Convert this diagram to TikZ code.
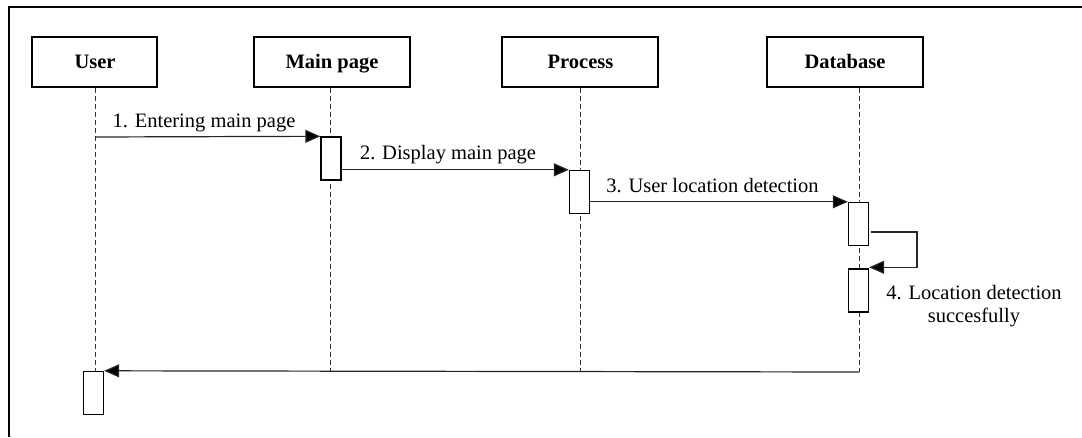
\documentclass[tikz,border=0pt]{standalone}
\usepackage{fontspec}
\setmainfont{Liberation Serif}
\usetikzlibrary{arrows.meta}
\begin{document}
\begin{tikzpicture}[x=1pt,y=-1pt,
  actor/.style={draw=black,line width=1.8pt,fill=white,minimum width=#1,minimum height=50pt,inner sep=0pt,
    font=\fontsize{20.5}{24}\selectfont\bfseries},
  act/.style={draw=black,line width=1.4pt,fill=white,minimum width=20pt,minimum height=43pt,inner sep=0pt},
  life/.style={draw=black!80,line width=1pt,dash pattern=on 5pt off 3pt},
  msg/.style={draw=black!85,line width=1.2pt,-{Triangle[length=15pt,width=13pt,fill=black]}},
  lbl/.style={font=\fontsize{20.5}{24}\selectfont,inner sep=0pt,anchor=base},
  frame/.style={draw=black,line width=2.2pt}]
\useasboundingbox (0,0) rectangle (1082,437);
\draw[frame] (9,437) -- (9,7) -- (1082,7);

% actor boxes
\node[actor=125pt] (user) at (94.5,62) {};
\node[actor=156pt] (main) at (332,62) {};
\node[actor=156pt] (proc) at (580,62) {};
\node[actor=156pt] (db) at (845,62) {};
\node[lbl,font=\fontsize{20.5}{24}\selectfont\bfseries] (userT) at (95,68.5) {User};
\node[lbl,font=\fontsize{20.5}{24}\selectfont\bfseries] (mainT) at (332,68.5) {Main page};
\node[lbl,font=\fontsize{20.5}{24}\selectfont\bfseries] (procT) at (580.5,68.5) {Process};
\node[lbl,font=\fontsize{20.5}{24}\selectfont\bfseries] (dbT) at (845,68.5) {Database};

% lifeline coordinates
\coordinate (uTop) at (95,88);   \coordinate (uBot) at (95,372);
\coordinate (mTop) at (330,88);  \coordinate (mBot) at (330,372);
\coordinate (pTop) at (580,88);  \coordinate (pBot) at (580,372);
\coordinate (dTop) at (859,88);  \coordinate (dBot) at (859,372);
\draw[life] (uTop) -- (uBot);
\draw[life] (mTop) -- (mBot);
\draw[life] (pTop) -- (pBot);
\draw[life] (dTop) -- (dBot);

% activations
\node[act] (a1) at (331,158.5) {};
\node[act] (a2) at (579.5,192) {};
\node[act] (a3) at (858.5,224) {};
\node[act] (a4) at (858.5,290.5) {};
\node[act] (a5) at (93.5,393) {};

% messages
\coordinate (m1s) at (95,137);
\draw[msg] (m1s) -- (a1.north west);
\node[lbl] (l1) at (204,127.3) {1. Entering main page};

\draw[msg] (a2.north west -| a1.east) -- (a2.north west);
\node[lbl] (l2) at (448,159) {2. Display main page};

\draw[msg] (a3.north west -| a2.east) -- (a3.north west);
\node[lbl] (l3) at (712.5,192) {3. User location detection};

\coordinate (s1) at (917,232);
\draw[msg] ([xshift=2pt]a3.east |- s1) -- (s1) |- ([yshift=1pt]a4.north east);
\node[lbl] (l4a) at (974,299) {4. Location detection};
\node[lbl] (l4b) at (974,322.5) {succesfully};

\draw[msg] (dBot) -- (a5.north east);
\end{tikzpicture}
\end{document}
